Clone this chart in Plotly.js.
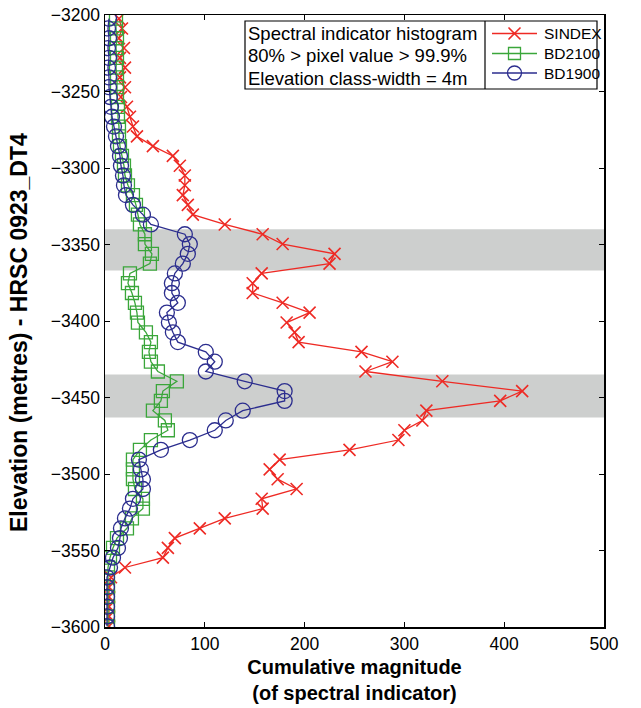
<!DOCTYPE html>
<html>
<head>
<meta charset="utf-8">
<script src="https://cdn.plot.ly/plotly-3.0.1.min.js"></script>
<style>html,body{margin:0;padding:0;background:#fff}#chart{width:641px;height:708px}</style>
</head>
<body>
<div id="chart"></div>
<script>
// Elevation of each histogram class (m)
const elevation = [
  -3202.4, -3208.8, -3215.2, -3221.6, -3228.0, -3234.4, -3240.8, -3247.2, -3253.6, -3260.0,
  -3266.5, -3272.9, -3279.3, -3285.7, -3292.1, -3298.5, -3304.9, -3311.3, -3317.7, -3324.1,
  -3330.5, -3336.9, -3343.3, -3349.7, -3356.1, -3362.5, -3368.9, -3375.3, -3381.7, -3388.1,
  -3394.5, -3401.0, -3407.4, -3413.8, -3420.2, -3426.6, -3433.0, -3439.4, -3445.8, -3452.2,
  -3458.6, -3465.0, -3471.4, -3477.8, -3484.2, -3490.6, -3497.0, -3503.4, -3509.8, -3516.2,
  -3522.6, -3529.0, -3535.5, -3541.9, -3548.3, -3554.7, -3561.1, -3567.5, -3573.9, -3580.3,
  -3586.7, -3593.1, -3599.5
];
const sindex = [
  14, 17, 14, 19, 15, 20, 15, 20, 16, 22, 25, 28, 32,
  48, 68, 75, 80, 80, 78, 83, 88, 120, 158, 178, 230, 225,
  157, 148, 148, 178, 205, 182, 190, 194, 257, 288, 261, 338, 418,
  396, 322, 318, 300, 294, 245, 175, 165, 173, 192, 157, 158, 120,
  95, 70, 63, 58, 20, 6, 4, 4, 4, 4, 4
];
const bd2100 = [
  11, 11, 12, 11, 12, 11, 12, 12, 12, 13, 13, 14, 14,
  15, 17, 19, 20, 23, 28, 31, 33, 35, 40, 40, 47, 45,
  25, 23, 27, 30, 32, 33, 41, 46, 44, 46, 53, 72, 58,
  56, 48, 60, 63, 46, 35, 28, 28, 28, 30, 38, 38, 27,
  22, 12, 8, 5, 3, 3, 3, 3, 3, 3, 3
];
const bd1900 = [
  4, 3, 4, 3, 4, 3, 4, 4, 5, 6, 7, 9, 11,
  13, 15, 16, 18, 19, 21, 28, 38, 46, 80, 85, 83, 78,
  70, 67, 67, 73, 62, 64, 68, 73, 101, 110, 101, 140, 180,
  180, 138, 121, 110, 85, 56, 34, 36, 38, 38, 28, 25, 20,
  16, 15, 13, 8, 5, 2, 2, 2, 2, 2, 2
];
const seriesNames = ['SINDEX', 'BD2100', 'BD1900'];
const bandRanges = [[-3340, -3367], [-3435, -3463]];
const xTicks = [0, 100, 200, 300, 400, 500];
const yTicks = [-3600, -3550, -3500, -3450, -3400, -3350, -3300, -3250, -3200];
const noteLines = ['Spectral indicator histogram', '80% > pixel value > 99.9%', 'Elevation class-width = 4m'];
const xTitle = '<b>Cumulative magnitude<br>(of spectral indicator)</b>';
const yTitle = '<b>Elevation (metres) - HRSC 0923_DT4</b>';

const FONT = 'Liberation Sans, Arial, Helvetica, sans-serif';
const M = {l: 105, r: 37, t: 15, b: 81};
const W = 641, H = 708;
const PW = W - M.l - M.r, PH = H - M.t - M.b;
const px = v => (v - M.l) / PW;          // page x pixel -> paper
const py = v => 1 - (v - M.t) / PH;      // page y pixel -> paper

const styles = [
  {color: '#ee2a24', symbol: 'x-thin-open', size: 12, mlw: 1.6, kind: 'x'},
  {color: '#3aa63a', symbol: 'square-open', size: 13, mlw: 1.3, kind: 'square'},
  {color: '#2b2d8e', symbol: 'circle-open', size: 15, mlw: 1.3, kind: 'circle'}
];
const values = [sindex, bd2100, bd1900];
const traces = values.map((v, i) => ({
  type: 'scatter', mode: 'lines+markers', name: seriesNames[i], showlegend: false,
  x: v, y: elevation,
  line: {color: styles[i].color, width: 1.3},
  marker: {symbol: styles[i].symbol, size: styles[i].size, color: styles[i].color,
           line: {color: styles[i].color, width: styles[i].mlw}}
}));

const shapes = bandRanges.map(b => ({
  type: 'rect', xref: 'paper', yref: 'y', x0: 0, x1: 1, y0: b[0], y1: b[1],
  fillcolor: '#cdcfce', line: {width: 0}, layer: 'below'
}));

// note box + legend box
const box = {left: 245, right: 597, top: 21, bottom: 89, divider: 485};
shapes.push({type: 'rect', xref: 'paper', yref: 'paper', layer: 'above',
  x0: px(box.left), x1: px(box.right), y0: py(box.top), y1: py(box.bottom),
  fillcolor: '#fff', line: {color: '#000', width: 1.2}});
shapes.push({type: 'line', xref: 'paper', yref: 'paper', layer: 'above',
  x0: px(box.divider), x1: px(box.divider), y0: py(box.top), y1: py(box.bottom),
  line: {color: '#000', width: 1.2}});

const annotations = [];
const noteY = [33.5, 56, 78.5];
noteLines.forEach((t, i) => annotations.push({
  xref: 'paper', yref: 'paper', x: px(246), y: py(noteY[i]), xanchor: 'left', yanchor: 'middle',
  text: t, showarrow: false, font: {family: FONT, size: 18.5, color: '#000'}
}));

const legY = [33.5, 53.5, 73];
const lineX0 = 492, lineX1 = 537, mkX = 514.5, txtX = 542;
seriesNames.forEach((name, i) => {
  const s = styles[i], yy = py(legY[i]);
  shapes.push({type: 'line', xref: 'paper', yref: 'paper', layer: 'above',
    x0: px(lineX0), x1: px(lineX1), y0: yy, y1: yy, line: {color: s.color, width: 1.3}});
  const base = {xref: 'paper', yref: 'paper', layer: 'above', xsizemode: 'pixel', ysizemode: 'pixel',
    xanchor: px(mkX), yanchor: yy};
  if (s.kind === 'circle') {
    shapes.push(Object.assign({type: 'circle', x0: -7, x1: 7, y0: -7, y1: 7,
      fillcolor: 'rgba(0,0,0,0)', line: {color: s.color, width: s.mlw}}, base));
  } else if (s.kind === 'square') {
    shapes.push(Object.assign({type: 'rect', x0: -6, x1: 6, y0: -6, y1: 6,
      fillcolor: 'rgba(0,0,0,0)', line: {color: s.color, width: s.mlw}}, base));
  } else {
    shapes.push(Object.assign({type: 'line', x0: -6, x1: 6, y0: -6, y1: 6,
      line: {color: s.color, width: s.mlw}}, base));
    shapes.push(Object.assign({type: 'line', x0: -6, x1: 6, y0: 6, y1: -6,
      line: {color: s.color, width: s.mlw}}, base));
  }
  annotations.push({xref: 'paper', yref: 'paper', x: px(txtX), y: yy, xanchor: 'left', yanchor: 'middle',
    text: name, showarrow: false, font: {family: FONT, size: 15.5, color: '#000'}});
});

// y-axis title (rotated)
annotations.push({xref: 'paper', yref: 'paper', x: px(19), y: py(333), xanchor: 'center', yanchor: 'middle',
  textangle: -90, text: yTitle, showarrow: false, font: {family: FONT, size: 23, color: '#000'}});

const layout = {
  width: W, height: H,
  margin: M,
  paper_bgcolor: '#fff', plot_bgcolor: '#fff',
  font: {family: FONT, color: '#000', size: 17},
  showlegend: false,
  xaxis: {
    range: [0, 500], tickvals: xTicks, ticktext: xTicks.map(String),
    ticks: 'inside', ticklen: 5, tickcolor: '#000', tickwidth: 1,
    showline: true, linecolor: '#000', linewidth: 1.5, mirror: 'ticks',
    showgrid: false, zeroline: false,
    tickfont: {family: FONT, size: 17.5},
    title: {text: xTitle, font: {family: FONT, size: 20}, standoff: 7}
  },
  yaxis: {
    range: [-3600, -3200], tickvals: yTicks,
    ticks: 'inside', ticklen: 5, tickcolor: '#000', tickwidth: 1,
    showline: true, linecolor: '#000', linewidth: 1.5, mirror: 'ticks',
    showgrid: false, zeroline: false,
    tickfont: {family: FONT, size: 17.5}
  },
  shapes: shapes,
  annotations: annotations
};

Plotly.newPlot('chart', traces, layout, {displayModeBar: false, staticPlot: true});
</script>
</body>
</html>
